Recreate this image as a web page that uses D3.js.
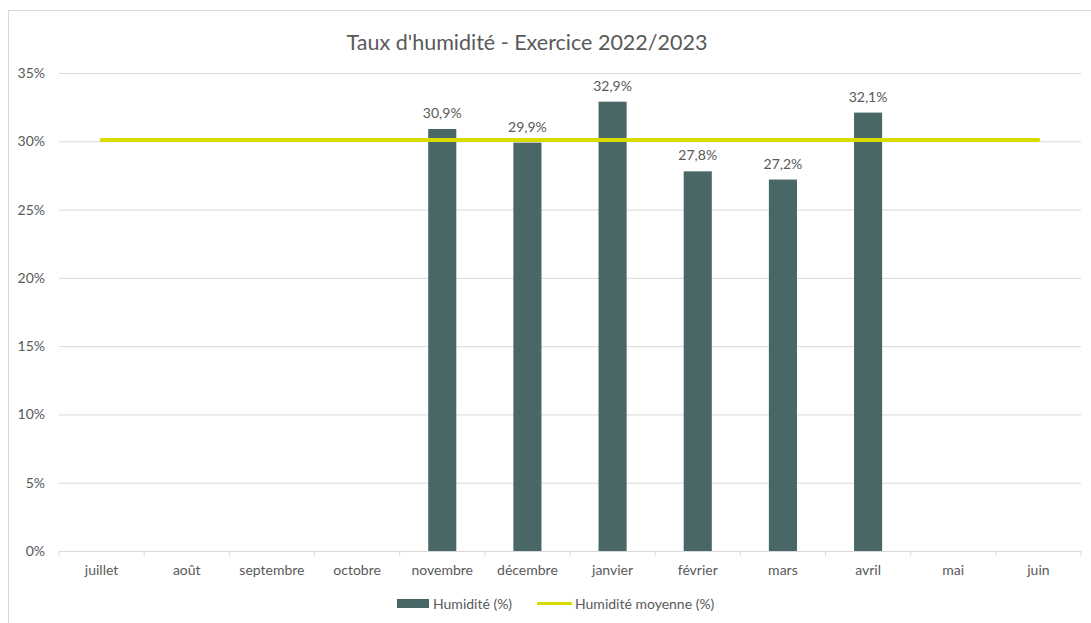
<!DOCTYPE html>
<html>
<head>
<meta charset="utf-8">
<script src="https://cdn.jsdelivr.net/npm/d3@7"></script>
<style>
  body { margin: 0; background: #fff; }
  text { font-family: Lato, "Open Sans", sans-serif; fill: #595959; }
</style>
</head>
<body>
<svg id="chart" width="1091" height="623"></svg>
<script>
// donnees du graphique
var mois = ["juillet", "août", "septembre", "octobre", "novembre", "décembre",
            "janvier", "février", "mars", "avril", "mai", "juin"];
var humidite = [null, null, null, null, 0.309, 0.299, 0.329, 0.278, 0.272, 0.321, null, null];
var humiditeMoyenne = [0.301, 0.301, 0.301, 0.301, 0.301, 0.301,
                       0.301, 0.301, 0.301, 0.301, 0.301, 0.301];
var ticksY = [0, 0.05, 0.10, 0.15, 0.20, 0.25, 0.30, 0.35];
var titre = "Taux d'humidité - Exercice 2022/2023";
var legende = ["Humidité (%)", "Humidité moyenne (%)"];

var corBarra = "#4a6767";
var corLinha = "#d9dc00";

var svg = d3.select("#chart");

// cadre du graphique
svg.append("rect")
  .attr("x", 8.5).attr("y", 10.5)
  .attr("width", 1100).attr("height", 640)
  .attr("fill", "none")
  .attr("stroke", "#d9d9d9");

var margemEsq = 59, margemDir = 1081, margemTopo = 73, margemBase = 551;

var xScale = d3.scaleBand().domain(mois).range([margemEsq, margemDir]).paddingInner(0).paddingOuter(0);
var yScale = d3.scaleLinear().domain([0, 0.35]).range([margemBase, margemTopo]);

// titre
svg.append("text")
  .attr("x", 527).attr("y", 50)
  .attr("text-anchor", "middle")
  .attr("font-size", "21.5px")
  .text(titre);

// axe Y avec quadrillage
var yAxis = d3.axisLeft(yScale)
  .tickValues(ticksY)
  .tickSize(-(margemDir - margemEsq))
  .tickPadding(14)
  .tickFormat(function(d) { return Math.round(d * 100) + "%"; });

var gy = svg.append("g")
  .attr("transform", "translate(" + margemEsq + ",0)")
  .call(yAxis);
gy.select(".domain").remove();
gy.selectAll(".tick line").attr("stroke", "#d9d9d9");
gy.selectAll(".tick text").attr("font-size", "14px").attr("fill", "#595959");

// axe X
var gx = svg.append("g")
  .attr("transform", "translate(0," + margemBase + ")")
  .call(d3.axisBottom(xScale).tickSize(0).tickPadding(14));
gx.select(".domain").attr("stroke", "#d9d9d9");
gx.selectAll(".tick text").attr("font-size", "14px").attr("fill", "#595959");

// petites graduations entre les categories
svg.append("g").selectAll("line")
  .data(mois.concat(["fin"]))
  .enter()
  .append("line")
  .attr("x1", function(d, i) { return margemEsq + i * xScale.step(); })
  .attr("x2", function(d, i) { return margemEsq + i * xScale.step(); })
  .attr("y1", margemBase)
  .attr("y2", margemBase + 5)
  .attr("stroke", "#d9d9d9");

// barres
var donnees = mois.map(function(m, i) { return { mois: m, val: humidite[i] }; })
  .filter(function(d) { return d.val !== null; });

var barW = xScale.bandwidth() * 0.33;

svg.append("g").selectAll("rect")
  .data(donnees)
  .enter()
  .append("rect")
  .attr("x", function(d) { return xScale(d.mois) + xScale.bandwidth() / 2 - barW / 2; })
  .attr("y", function(d) { return yScale(d.val); })
  .attr("width", barW)
  .attr("height", function(d) { return margemBase - yScale(d.val); })
  .attr("fill", corBarra);

// etiquettes des barres
svg.append("g").selectAll("text")
  .data(donnees)
  .enter()
  .append("text")
  .attr("x", function(d) { return xScale(d.mois) + xScale.bandwidth() / 2; })
  .attr("y", function(d) { return yScale(d.val) - 11; })
  .attr("text-anchor", "middle")
  .attr("font-size", "14px")
  .text(function(d) { return d3.format(".1f")(d.val * 100).replace(".", ",") + "%"; });

// ligne moyenne
var linha = d3.line()
  .x(function(d, i) { return xScale(mois[i]) + xScale.bandwidth() / 2; })
  .y(function(d) { return yScale(d); });

svg.append("path")
  .datum(humiditeMoyenne)
  .attr("d", linha)
  .attr("fill", "none")
  .attr("stroke", corLinha)
  .attr("stroke-width", 4)
  .attr("stroke-linecap", "round");

// legende
var gl = svg.append("g");
gl.append("rect")
  .attr("x", 397).attr("y", 599).attr("width", 32).attr("height", 9)
  .attr("fill", corBarra);
gl.append("text")
  .attr("x", 433).attr("y", 608.5).attr("font-size", "14px")
  .text(legende[0]);
gl.append("line")
  .attr("x1", 537).attr("x2", 572).attr("y1", 603.5).attr("y2", 603.5)
  .attr("stroke", corLinha).attr("stroke-width", 3);
gl.append("text")
  .attr("x", 575).attr("y", 608.5).attr("font-size", "14px")
  .text(legende[1]);
</script>
</body>
</html>
